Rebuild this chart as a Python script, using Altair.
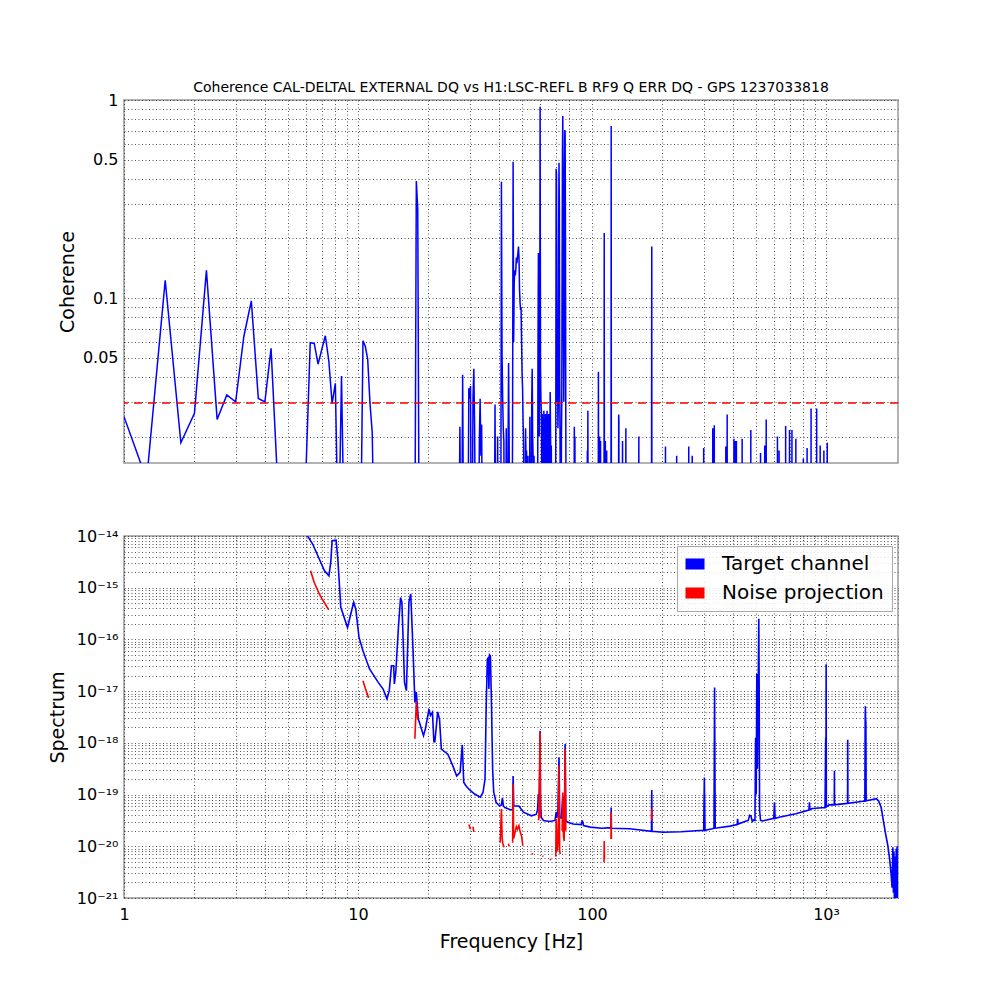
import altair as alt
import pandas as pd

# ---------------- data ----------------
TITLE = "Coherence CAL-DELTAL EXTERNAL DQ vs H1:LSC-REFL B RF9 Q ERR DQ - GPS 1237033818"
FREQ_MIN, FREQ_MAX = 1.0, 2030.0
COH_MIN, COH_MAX = 0.0147, 1.0
SPEC_MIN, SPEC_MAX = 1e-21, 1e-14
THRESHOLD = 0.0295
LOW = 0.005  # coherence below the visible range (clipped)

COH_FREQ = [
    1.0, 1.25, 1.5, 1.75, 2.0, 2.25, 2.5, 2.75, 3.0, 3.25, 3.5, 3.75, 4.0, 4.25, 4.5, 4.75,
    5.75, 6.0, 6.25, 6.5, 6.75, 7.0, 7.25, 7.5, 7.75, 8.0, 8.25, 8.5, 8.75,
    10.25, 10.5, 10.75, 11.0, 11.25, 11.5, 11.75, 17.5, 17.75, 18.0, 18.25,
    27.0, 27.25, 27.5, 27.75, 28.0, 28.25, 29.5, 29.75, 30.0, 30.25, 30.5, 30.75, 31.0, 31.25, 31.5, 31.75,
    32.75, 33.0, 33.25, 33.5, 33.75, 34.0, 38.25, 38.5, 38.75, 39.25, 39.5, 39.75,
    40.75, 41.0, 41.25, 41.5, 41.75, 42.0, 42.25, 42.75, 43.0, 43.25, 43.75, 44.0, 44.25, 44.5,
    45.5, 45.75, 46.0, 46.25, 46.5, 46.75, 47.0, 47.25, 47.5, 47.75, 48.0, 48.25, 48.5, 48.75, 49.0, 49.25, 49.5, 49.75, 50.0, 50.25, 50.5, 50.75, 51.0, 51.25,
    51.75, 52.0, 52.25, 52.5, 53.0, 53.25, 53.5, 54.0, 54.25, 54.5, 55.0, 55.25, 55.5, 55.75, 56.0, 56.25, 56.5, 56.75,
    58.5, 58.75, 59.0, 59.25, 59.5, 59.75, 60.0, 60.25, 60.5,
    60.75, 61.0, 61.25, 61.5, 61.75, 62.0, 62.25, 62.5, 62.75, 63.0, 63.25, 63.5, 63.75,
    64.0, 64.25, 64.5, 64.75, 65.0, 65.25, 65.5, 65.75, 66.0, 66.25, 66.5, 66.75, 67.0, 67.25,
    69.75, 70.0, 70.25, 70.5, 70.75, 71.0, 71.25, 71.5, 71.75, 72.0, 72.25, 72.5, 72.75, 73.0, 73.25,
    73.75, 74.0, 74.25, 74.5, 74.75, 75.0, 75.25, 75.5, 75.75, 76.0, 76.25, 76.5, 76.75, 77.0, 77.25, 77.5,
    83.75, 84.0, 84.25, 84.5, 84.75, 95.25, 95.5, 95.75, 96.0, 96.25, 106.25, 106.5, 106.75, 107.5, 107.75, 108.0,
    108.5, 108.75, 109.0, 112.5, 112.75, 113.0, 113.75, 114.0, 114.25, 115.25, 115.5, 115.75, 120.5, 120.75, 121.0,
    129.75, 130.0, 130.25, 130.5, 134.75, 135.0, 135.25, 139.25, 139.5, 139.75, 158.25, 158.5, 158.75,
    179.5, 179.75, 180.0, 180.25, 205.75, 206.0, 206.25, 229.75, 230.0, 230.25, 258.75, 259.0, 259.25,
    267.75, 268.0, 268.25, 299.75, 300.0, 300.25, 327.75, 328.0, 328.25, 332.75, 333.0, 333.25,
    372.75, 373.0, 373.25, 377.75, 378.0, 378.25, 403.75, 404.0, 404.25, 409.75, 410.0, 410.25, 413.75, 414.0, 414.25,
    437.75, 438.0, 438.25, 476.75, 477.0, 477.25, 524.75, 525.0, 525.25, 546.75, 547.0, 547.25, 554.75, 555.0, 555.25,
    619.75, 620.0, 620.25, 629.75, 630.0, 630.25, 671.75, 672.0, 672.25, 697.75, 698.0, 698.25, 714.75, 715.0, 715.25,
    742.75, 743.0, 743.25, 799.75, 800.0, 800.25, 829.75, 830.0, 830.25, 862.75, 863.0, 863.25, 911.75, 912.0, 912.25,
    943.75, 944.0, 944.25, 978.75, 979.0, 979.25, 1011.75, 1012.0, 1012.25, 2030.0,
]
COH_VAL = [
    0.0252, 0.0121, 0.123, 0.0186, 0.0262, 0.138, 0.0244, 0.0324, 0.0299, 0.0638, 0.0969, 0.0311, 0.0299, 0.0557, 0.0140, LOW,
    LOW, 0.0140, 0.0595, 0.059, 0.0464, 0.055, 0.0645, 0.0484, 0.0294, 0.0371, LOW, 0.0404, LOW,
    LOW, 0.0609, 0.0569, 0.049, 0.0295, 0.021, LOW, LOW, 0.39, 0.28, LOW,
    LOW, 0.0224, LOW, LOW, 0.041, LOW, LOW, 0.035, 0.031, 0.036, LOW, LOW, 0.031, 0.044, 0.0224, LOW,
    LOW, 0.019, 0.031, 0.016, 0.023, LOW, LOW, 0.029, LOW, LOW, 0.020, LOW,
    LOW, 0.387, 0.0526, 0.0317, 0.022, 0.019, LOW, LOW, 0.022, LOW, 0.016, 0.047, 0.018, LOW,
    LOW, 0.02, 0.488, 0.06, 0.12, 0.138, 0.13, 0.14, 0.16, 0.15, 0.16, 0.17, 0.182, 0.16, 0.11, 0.095, 0.087, 0.09, 0.06, 0.041, 0.035, 0.0234, 0.018, LOW,
    LOW, 0.022, 0.015, 0.017, LOW, 0.016, LOW, LOW, 0.0252, LOW, LOW, 0.03, 0.044, 0.02, 0.016, LOW, 0.016, LOW,
    LOW, 0.05, 0.169, 0.03, 0.02, 0.04, 0.925, 0.044, 0.03,
    0.027, 0.012, 0.026, 0.014, 0.025, 0.013, 0.027, 0.015, 0.024, 0.012, 0.026, 0.013, 0.025,
    0.016, 0.027, 0.012, 0.023, 0.013, 0.026, 0.015, 0.02, 0.013, 0.0336, 0.02, 0.012, 0.018, LOW,
    LOW, 0.02, 0.45, 0.42, 0.1, 0.03, 0.05, 0.022, 0.03, 0.2, 0.482, 0.3, 0.04, 0.02, LOW,
    LOW, 0.02, 0.03, 0.15, 0.55, 0.83, 0.3, 0.06, 0.03, 0.05, 0.4, 0.705, 0.68, 0.2, 0.025, LOW,
    LOW, 0.0224, 0.012, 0.02, LOW, LOW, 0.017, LOW, 0.027, LOW, LOW, 0.0425, LOW, LOW, 0.02, LOW,
    LOW, 0.019, LOW, LOW, 0.213, LOW, LOW, 0.019, LOW, LOW, 0.017, LOW, LOW, 0.74, LOW,
    LOW, 0.0258, 0.024, LOW, LOW, 0.019, LOW, LOW, 0.022, LOW, LOW, 0.02, LOW,
    LOW, 0.04, 0.182, LOW, LOW, 0.0178, LOW, LOW, 0.016, LOW, LOW, 0.0178, LOW,
    LOW, 0.016, LOW, LOW, 0.0175, LOW, LOW, 0.022, LOW, LOW, 0.0228, LOW,
    LOW, 0.0178, LOW, LOW, 0.0258, LOW, LOW, 0.0195, LOW, LOW, 0.019, LOW, LOW, 0.019, LOW,
    LOW, 0.0195, LOW, LOW, 0.0216, LOW, LOW, 0.0165, LOW, LOW, 0.018, LOW, LOW, 0.0244, LOW,
    LOW, 0.02, LOW, LOW, 0.017, LOW, LOW, 0.0226, LOW, LOW, 0.0216, LOW, LOW, 0.0216, LOW,
    LOW, 0.0195, LOW, LOW, 0.0155, LOW, LOW, 0.0175, LOW, LOW, 0.0277, LOW, LOW, 0.0277, LOW,
    LOW, 0.018, LOW, LOW, 0.017, LOW, LOW, 0.0186, LOW, LOW,
]

# target-channel spectrum: frequency [Hz] and log10 of the spectrum value
SPEC_FREQ = [
    6.05, 6.4, 6.83, 7.18, 7.51, 7.65, 7.75, 8.06, 8.2, 8.44, 9.02, 9.58, 9.78, 10.1, 10.5, 11.2,
    12.2, 12.8, 13.3, 13.6, 13.9, 14.2, 14.3, 14.5, 14.9, 15.2, 15.4, 15.8, 16.1, 16.5, 16.8, 17.2,
    17.5, 17.75, 18.1, 18.4, 19.05, 19.4, 20.1, 20.4, 20.8, 21.1, 21.3, 21.9, 22.3, 22.7, 24.2, 25.4,
    26.4, 27.3, 27.9, 28.3, 28.9, 30.0, 31.5, 33.3, 34.2, 34.9, 35.3, 35.7, 36.0, 36.25, 36.5, 36.8,
    37.2, 37.6, 38.0, 38.9, 40.3, 41.0, 41.4, 41.8, 42.4, 44.5, 45.8, 46.0, 46.3, 48.7, 50.9, 55.1,
    57.8, 58.5, 59.0, 59.5, 59.75, 60.0, 60.25, 60.75, 62.1, 66.0, 69.5, 70.25, 70.75, 71.5, 72.25, 72.75,
    74.0, 75.0, 75.75, 76.25, 76.75, 77.25, 78.5, 83.0, 90.0, 90.9, 92.0, 98.2, 110.0, 120.5, 120.75, 121.0,
    145.0, 179.5, 180.0, 180.5, 201.0, 240.0, 278.0, 300.0, 302.0, 304.0, 327.0, 332.0, 334.0, 336.0, 389.0, 417.0,
    419.0, 421.0, 456.0, 465.0, 472.0, 478.0, 484.0, 490.0, 497.0, 500.0, 503.0, 506.0, 509.0, 512.0, 514.0, 516.0,
    518.0, 520.0, 525.0, 535.0, 598.0, 602.0, 606.0, 630.0, 743.0, 845.0, 849.0, 853.0, 875.0, 990.0, 997.0, 999.0,
    1001.0, 1003.0, 1030.0, 1084.0, 1086.0, 1088.0, 1230.0, 1236.0, 1238.0, 1240.0, 1440.0, 1465.0, 1470.0, 1473.0, 1476.0, 1480.0,
    1484.0, 1600.0, 1640.0, 1680.0, 1720.0, 1750.0, 1790.0, 1836.0, 1870.0, 1899.0, 1915.0, 1930.0, 1940.0, 1950.0, 1960.0, 1970.0,
    1985.0, 1995.0, 2005.0, 2012.0, 2020.0, 2030.0,
]
SPEC_LOG10 = [
    -13.98, -14.155, -14.445, -14.67, -14.77, -14.5, -14.09, -14.08, -14.445, -15.38, -15.77, -15.28, -15.41, -15.96, -16.22, -16.57,
    -16.83, -16.96, -17.15, -16.99, -16.51, -16.51, -16.86, -16.64, -15.73, -15.19, -15.28, -16.83, -16.99, -15.28, -15.12, -16.25,
    -17.22, -17.02, -17.54, -17.64, -17.86, -17.73, -17.35, -17.47, -17.41, -17.98, -17.98, -17.40, -17.54, -18.12, -18.22, -18.44,
    -18.64, -18.57, -18.04, -18.76, -18.83, -18.91, -18.99, -19.05, -18.96, -18.70, -17.28, -16.38, -16.36, -16.96, -16.30, -16.32,
    -17.3, -18.5, -18.95, -19.15, -19.22, -19.2, -19.07, -19.22, -19.25, -19.29, -19.3, -18.64, -19.22, -19.22, -19.34, -19.41,
    -19.38, -19.3, -18.99, -19.1, -18.6, -17.77, -19.2, -19.45, -19.50, -19.52, -19.5, -19.34, -19.45, -19.3, -18.28, -19.45,
    -19.45, -19.02, -19.35, -19.3, -18.02, -19.5, -19.53, -19.57, -19.58, -19.5, -19.6, -19.63, -19.65, -19.64, -19.25, -19.65,
    -19.66, -19.71, -18.91, -19.71, -19.73, -19.72, -19.7, -19.69, -18.67, -19.69, -19.66, -19.65, -16.93, -19.65, -19.61, -19.58,
    -19.47, -19.57, -19.51, -19.5, -19.4, -19.42, -19.52, -19.49, -19.5, -17.9, -19.0, -16.67, -18.5, -17.2, -16.5, -15.6,
    -17.0, -19.3, -19.5, -19.51, -19.46, -19.15, -19.46, -19.44, -19.37, -19.3, -19.15, -19.29, -19.27, -19.25, -17.9, -19.0,
    -16.48, -19.24, -19.2, -19.2, -18.54, -19.2, -19.17, -19.17, -17.94, -19.17, -19.13, -19.13, -17.5, -17.29, -17.55, -17.6,
    -19.12, -19.09, -19.08, -19.13, -19.25, -19.45, -19.72, -19.98, -20.25, -20.57, -20.8, -20.02, -20.9, -20.1, -21.1, -20.2,
    -21.1, -20.05, -21.0, -20.0, -21.1, -20.9,
]

# noise projection: separate segments (segment id, frequency, log10 value)
NOISE_SEG = (
    [0] * 6 + [1] * 3 + [2] * 3 + [3] * 2 + [4] * 2 + [5] * 5 + [6] * 2 + [7] * 10
    + [8] * 2 + [9] * 4 + [10] * 2 + [11] * 2 + [12] * 8 + [13] * 7 + [14] * 3 + [15] * 3 + [16] * 3
)
NOISE_FREQ = [
    6.27, 6.5, 6.83, 7.03, 7.25, 7.5,
    10.5, 10.75, 11.1,
    17.5, 17.75, 18.0,
    29.75, 30.25,
    31.0, 31.25,
    40.5, 41.0, 41.3, 41.6, 42.1,
    43.9, 44.2,
    45.8, 46.0, 46.25, 46.8, 47.5, 48.0, 48.7, 49.3, 50.0, 50.6,
    55.5, 55.8,
    59.0, 59.25, 60.0, 60.25,
    61.5, 61.8,
    66.25, 66.6,
    70.0, 70.25, 70.5, 71.0, 71.75, 72.25, 72.75, 73.25,
    74.5, 75.0, 75.5, 76.0, 76.5, 76.75, 77.25,
    112.5, 112.75, 113.0,
    120.5, 120.75, 121.0,
    179.75, 180.0, 180.25,
]
NOISE_LOG10 = [
    -14.67, -14.90, -15.12, -15.22, -15.32, -15.43,
    -16.80, -16.95, -17.13,
    -17.92, -17.2, -17.55,
    -19.58, -19.67,
    -19.62, -19.72,
    -19.93, -19.28, -19.85, -19.95, -20.02,
    -19.95, -20.0,
    -19.93, -18.8, -19.85, -19.75, -19.62, -19.67, -19.6, -19.72, -19.8, -19.99,
    -20.13, -20.16,
    -19.5, -19.45, -17.8, -19.45,
    -20.18, -20.2,
    -20.24, -20.27,
    -20.2, -19.47, -19.6, -20.1, -19.9, -18.44, -20.1, -20.15,
    -19.7, -18.96, -19.8, -19.9, -18.9, -18.12, -19.7,
    -20.31, -19.9, -20.25,
    -19.86, -19.34, -19.86,
    -19.47, -19.28, -19.5,
]

SERIES = ["Target channel", "Noise projection"]
SERIES_COLORS = ["#0000ff", "#ff0000"]

# axis ticks / labels
X_LABEL_VALUES = [1.0, 10.0, 100.0, 1000.0]
X_LABELS = ["1", "10", "100", "10³"]
COH_LABEL_VALUES = [1.0, 0.5, 0.1, 0.05]
COH_LABELS = ["1", "0.5", "0.1", "0.05"]
SPEC_LABEL_VALUES = [1e-14, 1e-15, 1e-16, 1e-17, 1e-18, 1e-19, 1e-20, 1e-21]
SPEC_LABELS = ["10⁻¹⁴", "10⁻¹⁵", "10⁻¹⁶", "10⁻¹⁷", "10⁻¹⁸", "10⁻¹⁹", "10⁻²⁰", "10⁻²¹"]

X_GRID = [float(f"{k}e{n}") for n in (0, 1, 2) for k in range(1, 10)] + [1000.0]
COH_GRID = [float(f"{k}e{n}") for n in (-2, -1) for k in range(1, 10) if float(f"{k}e{n}") >= COH_MIN] + [1.0]
SPEC_GRID = [float(f"{k}e{n}") for n in range(-21, -14) for k in range(1, 10)] + [1e-14]


def label_expr(values, labels):
    parts = [f"datum.value == {v!r} ? '{lab}'" for v, lab in zip(values, labels)]
    return " : ".join(parts) + " : ''"


# ---------------- data frames ----------------
coh_df = pd.DataFrame({"freq": COH_FREQ, "coh": COH_VAL})
thr_df = pd.DataFrame({"coh": [THRESHOLD]})
target_df = pd.DataFrame({
    "freq": SPEC_FREQ,
    "spec": [10.0 ** v for v in SPEC_LOG10],
})
noise_df = pd.DataFrame({
    "freq": NOISE_FREQ,
    "spec": [10.0 ** v for v in NOISE_LOG10],
    "seg": NOISE_SEG,
})
# legend keys only: placed far below the visible range and clipped away
legend_df = pd.DataFrame({"freq": [FREQ_MIN, FREQ_MIN], "spec": [1e-30, 1e-30], "series": SERIES})

W = 774
x_scale = alt.Scale(type="log", domain=[FREQ_MIN, FREQ_MAX], nice=False)
fill_scale = alt.Scale(domain=SERIES, range=SERIES_COLORS)

# ---------------- top panel: coherence ----------------
x_top = alt.X("freq:Q", scale=x_scale,
              axis=alt.Axis(values=X_GRID, labels=False, title=None, minExtent=0, maxExtent=0))
y_top_scale = alt.Scale(type="log", domain=[COH_MIN, COH_MAX], nice=False)
y_top_axis = alt.Axis(values=COH_GRID, labelExpr=label_expr(COH_LABEL_VALUES, COH_LABELS),
                      title="Coherence", titlePadding=5)

coh_line = alt.Chart(coh_df).mark_line(color="#0000ff", strokeWidth=1.5, clip=True).encode(
    x=x_top,
    y=alt.Y("coh:Q", scale=y_top_scale, axis=y_top_axis),
)
thr_rule = alt.Chart(thr_df).mark_rule(color="#ff0000", strokeDash=[8, 6], strokeWidth=1.5).encode(
    y=alt.Y("coh:Q", scale=y_top_scale, axis=y_top_axis),
)
top = alt.layer(coh_line, thr_rule).properties(
    width=W, height=363,
    title=alt.TitleParams(TITLE, fontSize=14, fontWeight="normal", font="DejaVu Sans", offset=-3, color="black"),
)

# ---------------- bottom panel: spectrum ----------------
x_bot = alt.X("freq:Q", scale=x_scale,
              axis=alt.Axis(values=X_GRID, labelExpr=label_expr(X_LABEL_VALUES, X_LABELS),
                            title="Frequency [Hz]", titlePadding=10, labelPadding=8))
y_bot_scale = alt.Scale(type="log", domain=[SPEC_MIN, SPEC_MAX], nice=False)
y_bot = alt.Y("spec:Q", scale=y_bot_scale,
              axis=alt.Axis(values=SPEC_GRID, labelExpr=label_expr(SPEC_LABEL_VALUES, SPEC_LABELS),
                            title="Spectrum", titlePadding=9))

legend = alt.Legend(
    title=None, orient="none", legendX=553, legendY=446,
    fillColor="rgba(255,255,255,0.85)", strokeColor="#aaaaaa", padding=8,
    labelFontSize=20, labelFont="DejaVu Sans", labelColor="black", labelLimit=300,
    symbolType="M-1,-0.58L1,-0.58L1,0.58L-1,0.58Z", symbolSize=361,
    symbolStrokeWidth=0, symbolOpacity=1,
    labelOffset=17, rowPadding=9,
)

target_line = alt.Chart(target_df).mark_line(color=SERIES_COLORS[0], strokeWidth=1.6, clip=True).encode(
    x=x_bot, y=y_bot,
)
noise_line = alt.Chart(noise_df).mark_line(color=SERIES_COLORS[1], strokeWidth=1.6, clip=True).encode(
    x=x_bot, y=y_bot,
    detail="seg:N",
)
legend_keys = alt.Chart(legend_df).mark_point(filled=True, size=10, clip=True).encode(
    x=x_bot, y=y_bot,
    fill=alt.Fill("series:N", scale=fill_scale, legend=legend),
)
bottom = alt.layer(target_line, noise_line, legend_keys).properties(width=W, height=362)

chart = alt.vconcat(top, bottom, spacing=63).properties(
    padding={"left": 39, "top": 72, "right": 20, "bottom": 10}
).configure(
    font="DejaVu Sans",
).configure_view(
    stroke="#999999", strokeWidth=1.5,
).configure_axis(
    domain=False, ticks=False, grid=True,
    gridColor="#111111", gridOpacity=0.9, gridDash=[1, 2.5], gridWidth=0.8,
    labelFont="DejaVu Sans", labelFontSize=16, labelColor="black", labelPadding=6,
    labelOverlap=False, labelFlush=False, labelBound=False,
    titleFont="DejaVu Sans", titleFontSize=19, titleFontWeight="normal", titleColor="black",
)

chart.save("out.html", embed_options={"renderer": "svg", "actions": False})
